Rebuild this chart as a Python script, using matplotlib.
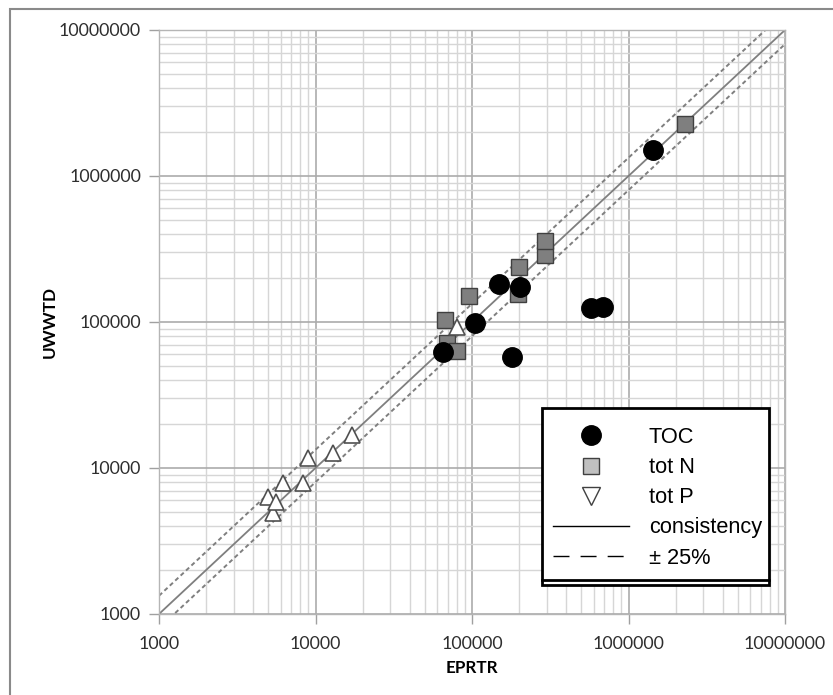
import numpy as np
import matplotlib
matplotlib.use('Agg')
import matplotlib.pyplot as plt
from matplotlib.lines import Line2D
from matplotlib.patches import Rectangle
from matplotlib.ticker import LogLocator, FixedLocator, NullFormatter

# values (EPRTR on x, UWWTD on y)
toc_x = [65300, 104500, 148800, 180200, 203000, 575700, 687000, 1435000]
toc_y = [62300, 98400, 182000, 57600, 173700, 124700, 126700, 1507000]

totn_x = [67200, 69200, 80200, 95700, 196800, 199600, 292700, 292700, 2296000]
totn_y = [103000, 71800, 63300, 150700, 155500, 238000, 287700, 358700, 2270000]

totp_x = [4970, 5375, 5590, 6225, 8360, 8995, 13000, 17030, 80200]
totp_y = [6330, 4895, 5850, 7850, 7850, 11650, 12600, 16830, 92400]

axis_lim = [1000, 10000000]
tick_vals = [1000, 10000, 100000, 1000000, 10000000]
tick_labels = ['1000', '10000', '100000', '1000000', '10000000']
band = 0.25

W, H = 833, 695
fig = plt.figure(figsize=(W / 100, H / 100), dpi=100)
ax = fig.add_axes([159 / W, (H - 614) / H, 626 / W, 584 / H])

ax.set_xscale('log')
ax.set_yscale('log')
ax.set_xlim(axis_lim)
ax.set_ylim(axis_lim)

# grid
ax.xaxis.set_major_locator(FixedLocator(tick_vals))
ax.yaxis.set_major_locator(FixedLocator(tick_vals))
ax.xaxis.set_minor_locator(LogLocator(base=10, subs=np.arange(2, 10), numticks=20))
ax.yaxis.set_minor_locator(LogLocator(base=10, subs=np.arange(2, 10), numticks=20))
ax.xaxis.set_minor_formatter(NullFormatter())
ax.yaxis.set_minor_formatter(NullFormatter())
ax.set_xticklabels(tick_labels)
ax.set_yticklabels(tick_labels)
ax.grid(True, which='major', color='#ababab', lw=1.2, zorder=0)
ax.grid(True, which='minor', color='#d6d6d6', lw=1.0, zorder=0)
ax.set_axisbelow(True)

for sp in ax.spines.values():
    sp.set_color('#b5b5b5')
    sp.set_linewidth(1.0)

ax.tick_params(which='major', length=7, width=1, color='#a0a0a0',
               labelsize=12.8, labelcolor='#2e2e2e')
ax.tick_params(axis='y', which='major', pad=6)
ax.tick_params(axis='x', which='major', pad=9)
ax.tick_params(which='minor', length=0)
for lab in ax.get_xticklabels() + ax.get_yticklabels():
    lab.set_family('Lato')

# consistency line and +-25% band
xs = np.array(axis_lim, dtype=float)
ax.plot(xs, xs, color='#7f7f7f', lw=1.3, zorder=2)
ax.plot(xs, xs / (1 - band), color='#7f7f7f', lw=1.4, dashes=[2.2, 1.6], zorder=2)
ax.plot(xs, xs / (1 + band), color='#7f7f7f', lw=1.4, dashes=[2.2, 1.6], zorder=2)

ax.plot(totn_x, totn_y, ls='none', marker='s', ms=12, mfc='#7f7f7f',
        mec='#404040', mew=1.0, zorder=3)
ax.plot(totp_x, totp_y, ls='none', marker='^', ms=12, mfc='white',
        mec='#505050', mew=1.2, zorder=4)
ax.plot(toc_x, toc_y, ls='none', marker='o', ms=14, mfc='black',
        mec='black', zorder=5)

ax.set_xlabel('EPRTR', fontsize=12.3, fontweight='bold', family='Lato')
ax.set_ylabel('UWWTD', fontsize=12.3, fontweight='bold', family='Lato')
ax.xaxis.set_label_coords((472 - 159) / 626, (614 - 668) / 584)
ax.yaxis.set_label_coords((50 - 159) / 626, 0.5)
ax.xaxis.label.set_va('center')
ax.yaxis.label.set_va('center')

# legend box (double line at the bottom like the original)
fig.add_artist(Rectangle((542 / W, 1 - 585 / H), (769 - 542) / W, (585 - 408) / H,
                         transform=fig.transFigure, facecolor='white',
                         edgecolor='black', lw=2, zorder=6))
fig.add_artist(Line2D([542 / W, 769 / W], [1 - 580 / H, 1 - 580 / H],
                      transform=fig.transFigure, color='black', lw=2, zorder=7))

handles = [
    Line2D([], [], ls='none', marker='o', ms=14, mfc='black', mec='black'),
    Line2D([], [], ls='none', marker='s', ms=12, mfc='#c0c0c0', mec='#404040', mew=1.0),
    Line2D([], [], ls='none', marker='v', ms=12.5, mfc='white', mec='#404040', mew=1.0),
    Line2D([], [], color='black', lw=1.0),
    Line2D([], [], color='black', lw=1.0, dashes=[11.5, 8]),
]
labels = ['TOC', 'tot N', 'tot P', 'consistency', '\u00b1 25%']
leg = fig.legend(handles, labels, loc='upper left',
                 bbox_to_anchor=(553 / W, 1 - 427 / H), bbox_transform=fig.transFigure,
                 frameon=False, borderpad=0, borderaxespad=0,
                 handlelength=3.5, handletextpad=0.9, labelspacing=0.42,
                 prop={'family': 'Liberation Sans', 'size': 15.7})
leg.set_zorder(8)

# outer chart border
fig.add_artist(Rectangle((10 / W, -0.05), 1.2, 1 - 9 / H + 0.05,
                         transform=fig.transFigure, fill=False,
                         edgecolor='#8a8a8a', lw=1.5, zorder=10))

fig.savefig('out.png', dpi=100)
